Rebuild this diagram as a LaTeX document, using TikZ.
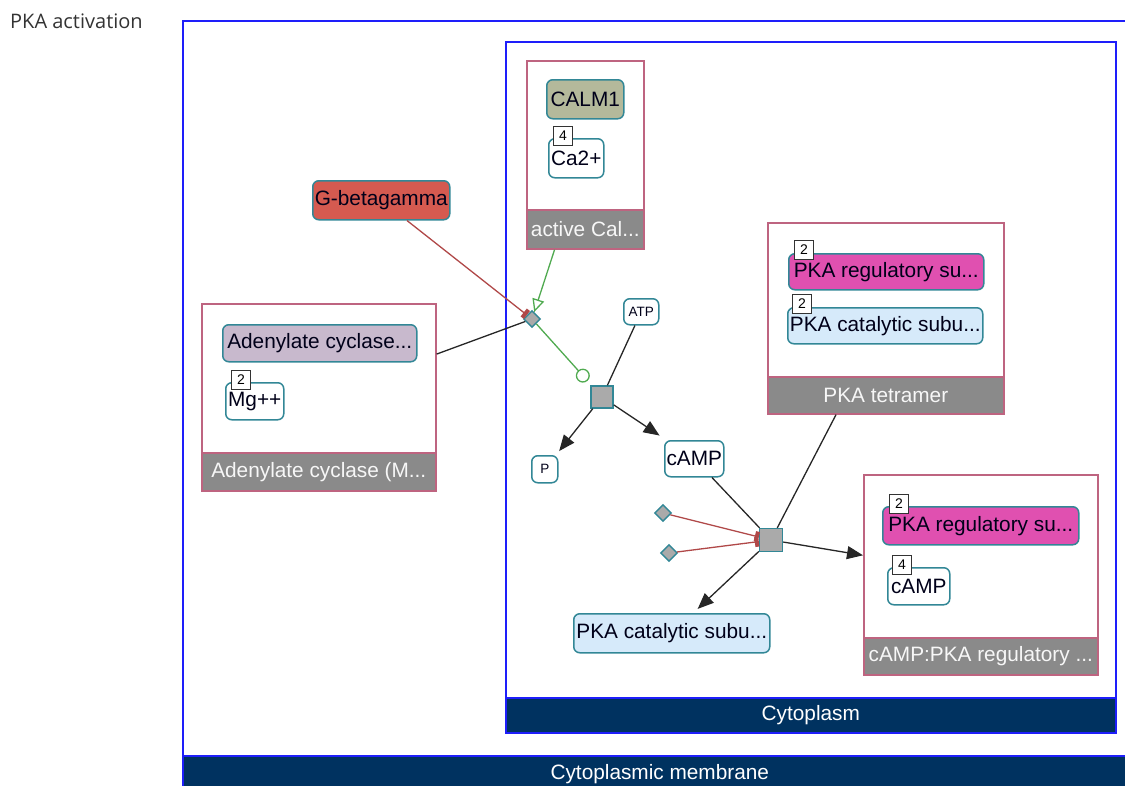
\documentclass[tikz,border=0pt]{standalone}
\usepackage{fontspec}
\setmainfont{Liberation Sans}
\newfontfamily\titlefont{Open Sans}
\usepackage{tikz}
\usetikzlibrary{shapes.geometric, arrows.meta, positioning, calc}
\usepackage{xcolor}
\definecolor{compblue}{RGB}{30,30,250}
\definecolor{compnavy}{RGB}{0,50,96}
\definecolor{cplxborder}{RGB}{190,100,128}
\definecolor{cplxgray}{RGB}{138,138,138}
\definecolor{entteal}{RGB}{50,135,150}
\definecolor{calmolive}{RGB}{180,185,155}
\definecolor{gbgred}{RGB}{213,90,80}
\definecolor{adcylilac}{RGB}{200,185,205}
\definecolor{pkamagenta}{RGB}{224,80,176}
\definecolor{pkablue}{RGB}{214,234,250}
\definecolor{procgray}{RGB}{170,170,170}
\definecolor{inhibred}{RGB}{176,72,72}
\definecolor{stimgreen}{RGB}{80,170,80}

\begin{document}
\begin{tikzpicture}[x=1pt, y=-1pt,
    every node/.style={inner sep=0pt, font=\fontsize{20.8}{23}\selectfont},
    compart/.style={draw=compblue, line width=1.6pt, anchor=north west},
    compbar/.style={draw=compblue, fill=compnavy, line width=1.6pt, text=white, anchor=south},
    cplx/.style={draw=cplxborder, line width=1.6pt, anchor=north west},
    cplxbar/.style={draw=cplxborder, fill=cplxgray, line width=1.6pt, text=white!94!gray, anchor=south},
    ent/.style={draw=entteal, line width=1.5pt, rounded corners=6pt, minimum height=37pt, anchor=north west, text=black!90!blue},
    small/.style={ent, font=\fontsize{13.5}{14}\selectfont},
    mult/.style={draw=black!80, fill=white, line width=1pt, minimum width=19pt, minimum height=19pt, font=\fontsize{14}{14}\selectfont},
    proc/.style={draw=entteal, fill=procgray, line width=1.4pt, minimum size=22pt},
    modf/.style={diamond, draw=entteal, fill=procgray, line width=1.4pt, minimum size=17pt},
    link/.style={draw=black!85, line width=1.3pt},
    prod/.style={link, -{Triangle[length=16pt, width=13pt]}},
    inhib/.style={draw=inhibred, line width=1.3pt, -{Bar[width=10pt, line width=4pt]}},
    stim/.style={draw=stimgreen, line width=1.3pt, -{Triangle[open, length=13pt, width=12pt]}},
    catal/.style={draw=stimgreen, line width=1.3pt, -{Circle[open, length=14pt]}, shorten >=6pt}
  ]
  \useasboundingbox (0,0) rectangle (1125,785);
  \clip (0,0) rectangle (1125,785);

  % Title
  \node[anchor=west, font=\titlefont\fontsize{20}{23}\selectfont, text=black!80] (title) at (10,21) {PKA activation};

  % Compartments
  \node[compart, minimum width=954pt, minimum height=772pt] (membrane) at (182,20) {};
  \node[compbar, minimum width=954pt, minimum height=37pt] (membranelbl) at (membrane.south) {Cytoplasmic membrane};
  \node[compart, minimum width=610pt, minimum height=691pt] (cytoplasm) at (505,41) {};
  \node[compbar, minimum width=610pt, minimum height=35pt] (cytoplasmlbl) at (cytoplasm.south) {Cytoplasm};

  % Complexes
  \node[cplx, minimum width=117pt, minimum height=188pt] (calx) at (526,60) {};
  \node[cplxbar, minimum width=117pt, minimum height=39pt] (calxlbl) at (calx.south) {active Cal...};
  \node[cplx, minimum width=234pt, minimum height=187pt] (adcx) at (201,303) {};
  \node[cplxbar, minimum width=234pt, minimum height=38pt] (adcxlbl) at (adcx.south) {Adenylate cyclase (M...};
  \node[cplx, minimum width=236pt, minimum height=191pt] (pkatet) at (767,222) {};
  \node[cplxbar, minimum width=236pt, minimum height=37pt] (pkatetlbl) at (pkatet.south) {PKA tetramer};
  \node[cplx, minimum width=234pt, minimum height=200pt] (camppka) at (863,474) {};
  \node[cplxbar, minimum width=234pt, minimum height=37pt] (camppkalbl) at (camppka.south) {cAMP:PKA regulatory ...};

  % Entities
  \node[ent, fill=calmolive, minimum width=77pt, minimum height=39pt] (calm) at (546,79) {CALM1};
  \node[ent, fill=white, minimum width=55pt, minimum height=39pt] (ca) at (548,138) {Ca2+};
  \node[mult] (can) at ($(ca.north west)+(15,-2)$) {4};
  \node[ent, fill=gbgred, minimum width=137pt, minimum height=39pt] (gbg) at (312,180) {G-betagamma};
  \node[ent, fill=adcylilac, minimum width=194pt] (adcy) at (222,324) {Adenylate cyclase...};
  \node[ent, fill=white, minimum width=58pt] (mg) at (225,382) {Mg++};
  \node[mult] (mgn) at ($(mg.north west)+(16,-2)$) {2};
  \node[ent, fill=pkamagenta, minimum width=195pt, minimum height=36pt] (pkareg) at (788,253) {PKA regulatory su...};
  \node[mult] (pkaregn) at ($(pkareg.north west)+(16,-3)$) {2};
  \node[ent, fill=pkablue, minimum width=195pt, minimum height=36pt] (pkacatt) at (787,307) {PKA catalytic subu...};
  \node[mult] (pkacattn) at ($(pkacatt.north west)+(15,-3)$) {2};
  \node[ent, fill=pkamagenta, minimum width=196pt, minimum height=38pt] (pkareg2) at (882,506) {PKA regulatory su...};
  \node[mult] (pkareg2n) at ($(pkareg2.north west)+(17,-2)$) {2};
  \node[ent, fill=white, minimum width=62pt] (camp2) at (887,567) {cAMP};
  \node[mult] (camp2n) at ($(camp2.north west)+(15,-2)$) {4};
  \node[small, fill=white, minimum width=35pt, minimum height=26pt] (atp) at (623,298) {ATP};
  \node[small, fill=white, minimum width=26pt, minimum height=27pt] (pi) at (531,455) {P};
  \node[ent, fill=white, minimum width=59pt, minimum height=36pt] (camp) at (664,440) {cAMP};
  \node[ent, fill=pkablue, minimum width=196pt, minimum height=39pt] (pkacat) at (573,613) {PKA catalytic subu...};

  % Processes and modifiers
  \node[modf] (dia1) at (532,319) {};
  \node[proc] (proc1) at (602,397) {};
  \node[modf] (dia2) at (663,513) {};
  \node[modf] (dia3) at (669,553) {};
  \node[proc, minimum size=23pt] (proc2) at (771,540) {};

  % Adenylate cyclase activation
  \draw[inhib] (gbg) -- (dia1);
  \draw[stim] (calx) -- (dia1);
  \draw[link] (adcx) -- (dia1);
  \draw[catal] (dia1) -- (proc1);

  % ATP to cAMP
  \draw[link] (atp) -- (proc1);
  \draw[prod, shorten >=5pt] (proc1) -- (pi);
  \draw[prod, shorten >=8pt] (proc1) -- (camp);

  % PKA release
  \draw[link] (camp) -- (proc2);
  \draw[link] (pkatet) -- (proc2);
  \draw[inhib] (dia2) -- (proc2);
  \draw[inhib] (dia3) -- (proc2);
  \draw[prod] (proc2) -- (camppka);
  \draw[prod, shorten >=6pt] (proc2) -- (pkacat);
\end{tikzpicture}
\end{document}
